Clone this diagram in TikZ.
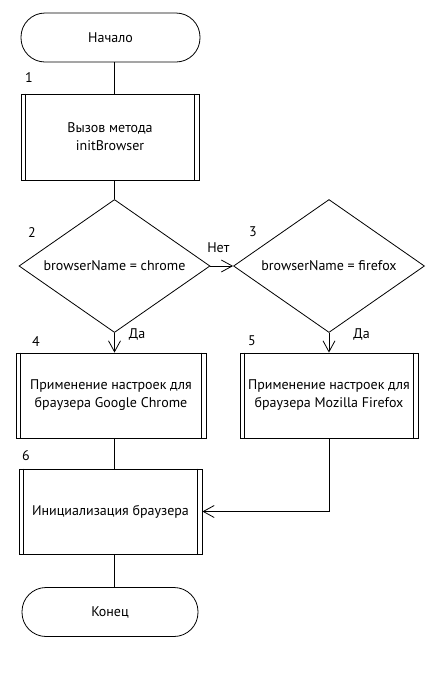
\documentclass[tikz,border=0pt]{standalone}
\usepackage{fontspec}
\setmainfont{PT Sans}
\usepackage{tikz}
\usetikzlibrary{shapes.geometric}
\usetikzlibrary{arrows.meta}
\usetikzlibrary{calc}
\tikzset{
  term/.style={draw, rounded corners=24pt, minimum width=#1, minimum height=49pt, inner sep=0pt},
  proc/.style n args={2}{draw, minimum width=#1, minimum height=#2, align=center, inner sep=0pt},
  cond/.style={draw, diamond, aspect=1.43, minimum width=191pt, minimum height=133pt, inner sep=0pt},
  num/.style={inner sep=0pt},
  lbl/.style={inner sep=0pt},
  >={Straight Barb[length=11pt,width=12pt]}
}

\begin{document}
\begin{tikzpicture}[x=1pt,y=-1pt,line width=0.8pt,font=\fontsize{14}{18}\selectfont]
\useasboundingbox (0,0) rectangle (433,673);

\node[term=179pt] (nach) at (110.5,37.5) {Начало};
\node[proc={178pt}{86pt}] (b1) at (110,137) {Вызов метода\\initBrowser};
\node[cond] (d2) at (114.5,266) {browserName = chrome};
\node[cond] (d3) at (329,266) {browserName = firefox};
\node[proc={190pt}{85pt}] (b4) at (111,395.5) {Применение настроек для\\браузера Google Chrome};
\node[proc={178pt}{85pt}] (b5) at (329,395.5) {Применение настроек для\\браузера Mozilla Firefox};
\node[proc={183pt}{85pt}] (b6) at (110.5,511.5) {Инициализация браузера};
\node[term=176pt] (kon) at (110,612) {Конец};

% inner side lines of the process boxes
\foreach \b in {b1,b4,b5,b6}
{
  \draw ($(\b.north west)+(5,0)$) -- ($(\b.south west)+(5,0)$);
  \draw ($(\b.north east)+(-5,0)$) -- ($(\b.south east)+(-5,0)$);
}

\node[num] (n1) at (29,78) {1};
\node[num] (n2) at (32,233) {2};
\node[num] (n3) at (253,232) {3};
\node[num] (n4) at (36,342) {4};
\node[num] (n5) at (252,341) {5};
\node[num] (n6) at (26,456) {6};

\draw (d2.north |- nach.south) -- (d2.north |- b1.north);
\draw (d2.north |- b1.south) -- (d2.north);
\draw[->] (d2.east) -- node[lbl, above=13pt, pos=0.35] (net) {Нет} (d3.west);
\draw[->] (d2.south) -- node[lbl, right=14pt, pos=0.1] (da1) {Да} (d2.south |- b4.north);
\draw[->] (d3.south) -- node[lbl, right=24pt, pos=0.1] (da2) {Да} (b5.north);
\draw (d2.south |- b4.south) -- (d2.south |- b6.north);
\draw[->] (b5.south) |- (b6.east);
\draw (d2.south |- b6.south) -- (d2.south |- kon.north);

\end{tikzpicture}
\end{document}
